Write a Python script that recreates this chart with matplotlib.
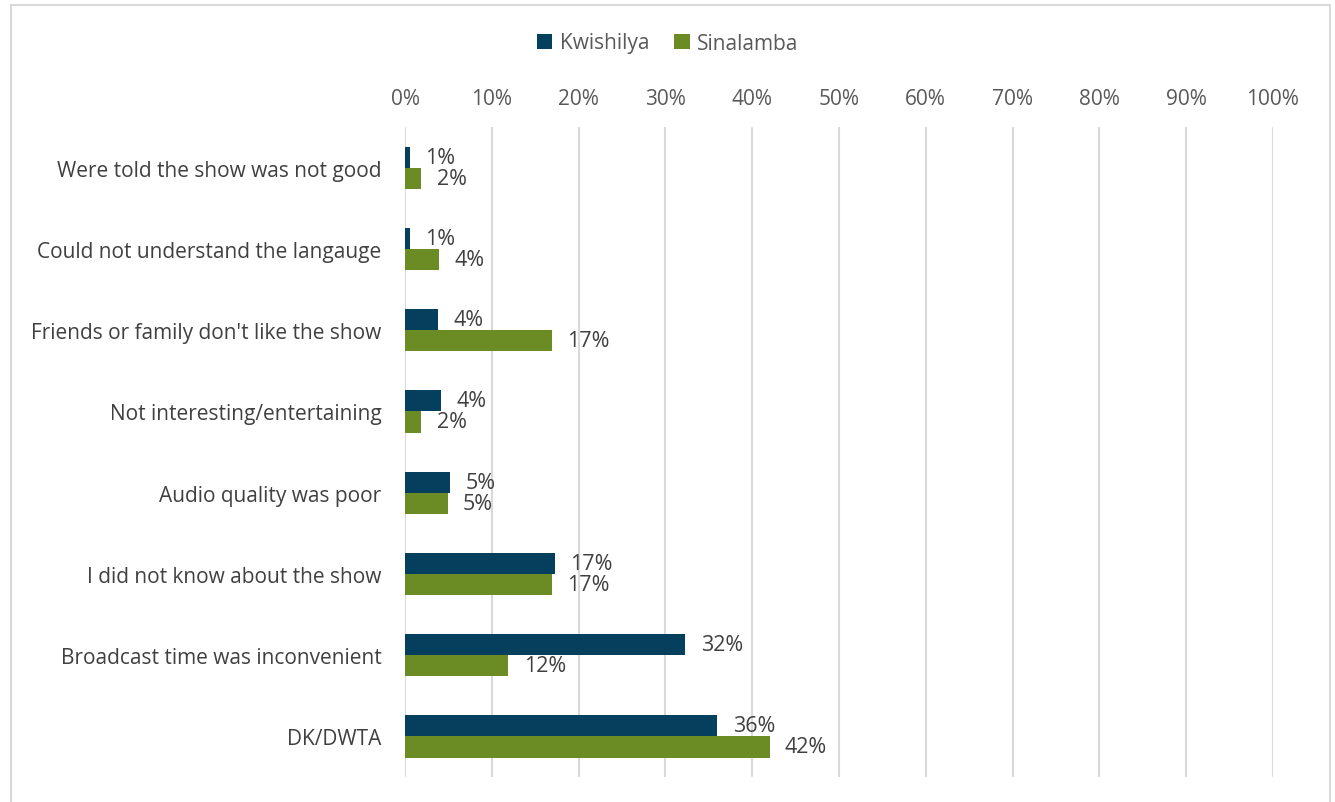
import numpy as np
import matplotlib
matplotlib.use("Agg")
from matplotlib import pyplot as plt
from matplotlib.patches import Rectangle

plt.rcParams['font.family'] = ['Open Sans', 'DejaVu Sans']

categories = [
    "Were told the show was not good",
    "Could not understand the langauge",
    "Friends or family don't like the show",
    "Not interesting/entertaining",
    "Audio quality was poor",
    "I did not know about the show",
    "Broadcast time was inconvenient",
    "DK/DWTA",
]
kwishilya = [0.6, 0.6, 3.8, 4.2, 5.2, 17.3, 32.3, 36.0]
sinalamba = [1.9, 3.9, 16.9, 1.9, 4.9, 16.9, 11.9, 42.0]
series_names = ["Kwishilya", "Sinalamba"]
colors = ["#053f5e", "#6b8c24"]
xticks = list(range(0, 101, 10))

W, H = 1335, 803
fig = plt.figure(figsize=(W / 100, H / 100), dpi=100)
fig.patch.set_facecolor("white")

# light frame round the chart area
fig.add_artist(Rectangle((10.5 / W, -0.05), 1319.5 / W, 1.05 - 5.5 / H, transform=fig.transFigure,
                         fill=False, ec="#d9d9d9", lw=1.5))

ax = fig.add_axes([405 / W, 1 - 778 / H, 868 / W, 650 / H])

y = np.arange(len(categories))
bh = 0.26
text_col = "#404040"
for vals, off, col, name in zip([kwishilya, sinalamba], [-bh / 2, bh / 2], colors, series_names):
    bars = ax.barh(y + off, vals, height=bh, color=col, label=name, zorder=3)
    for v, yy in zip(vals, y + off):
        ax.annotate(f"{v:.0f}%", (v, yy), xytext=(11, 0), textcoords="offset points",
                    ha="left", va="center", fontsize=15.5, color=text_col)

ax.set_ylim(len(categories) - 0.5, -0.5)
ax.set_xlim(0, 100)
ax.set_yticks(y)
ax.set_yticklabels(categories, fontsize=15, color=text_col)
ax.set_xticks(xticks)
ax.set_xticklabels([f"{t}%" for t in xticks], fontsize=15, color="#595959")
ax.xaxis.tick_top()
ax.tick_params(axis="both", length=0)
ax.tick_params(axis="y", pad=17)
ax.tick_params(axis="x", pad=13)
ax.grid(axis="x", color="#d9d9d9", lw=1.5, zorder=0)
for s in ax.spines.values():
    s.set_visible(False)

fig.legend(loc="center", bbox_to_anchor=(0.5, 1 - 44 / H), ncol=2, frameon=False,
           fontsize=15, handlelength=0.75, handleheight=0.75, handletextpad=0.35,
           columnspacing=1.2, labelcolor="#595959")

fig.savefig("out.png", dpi=100)
